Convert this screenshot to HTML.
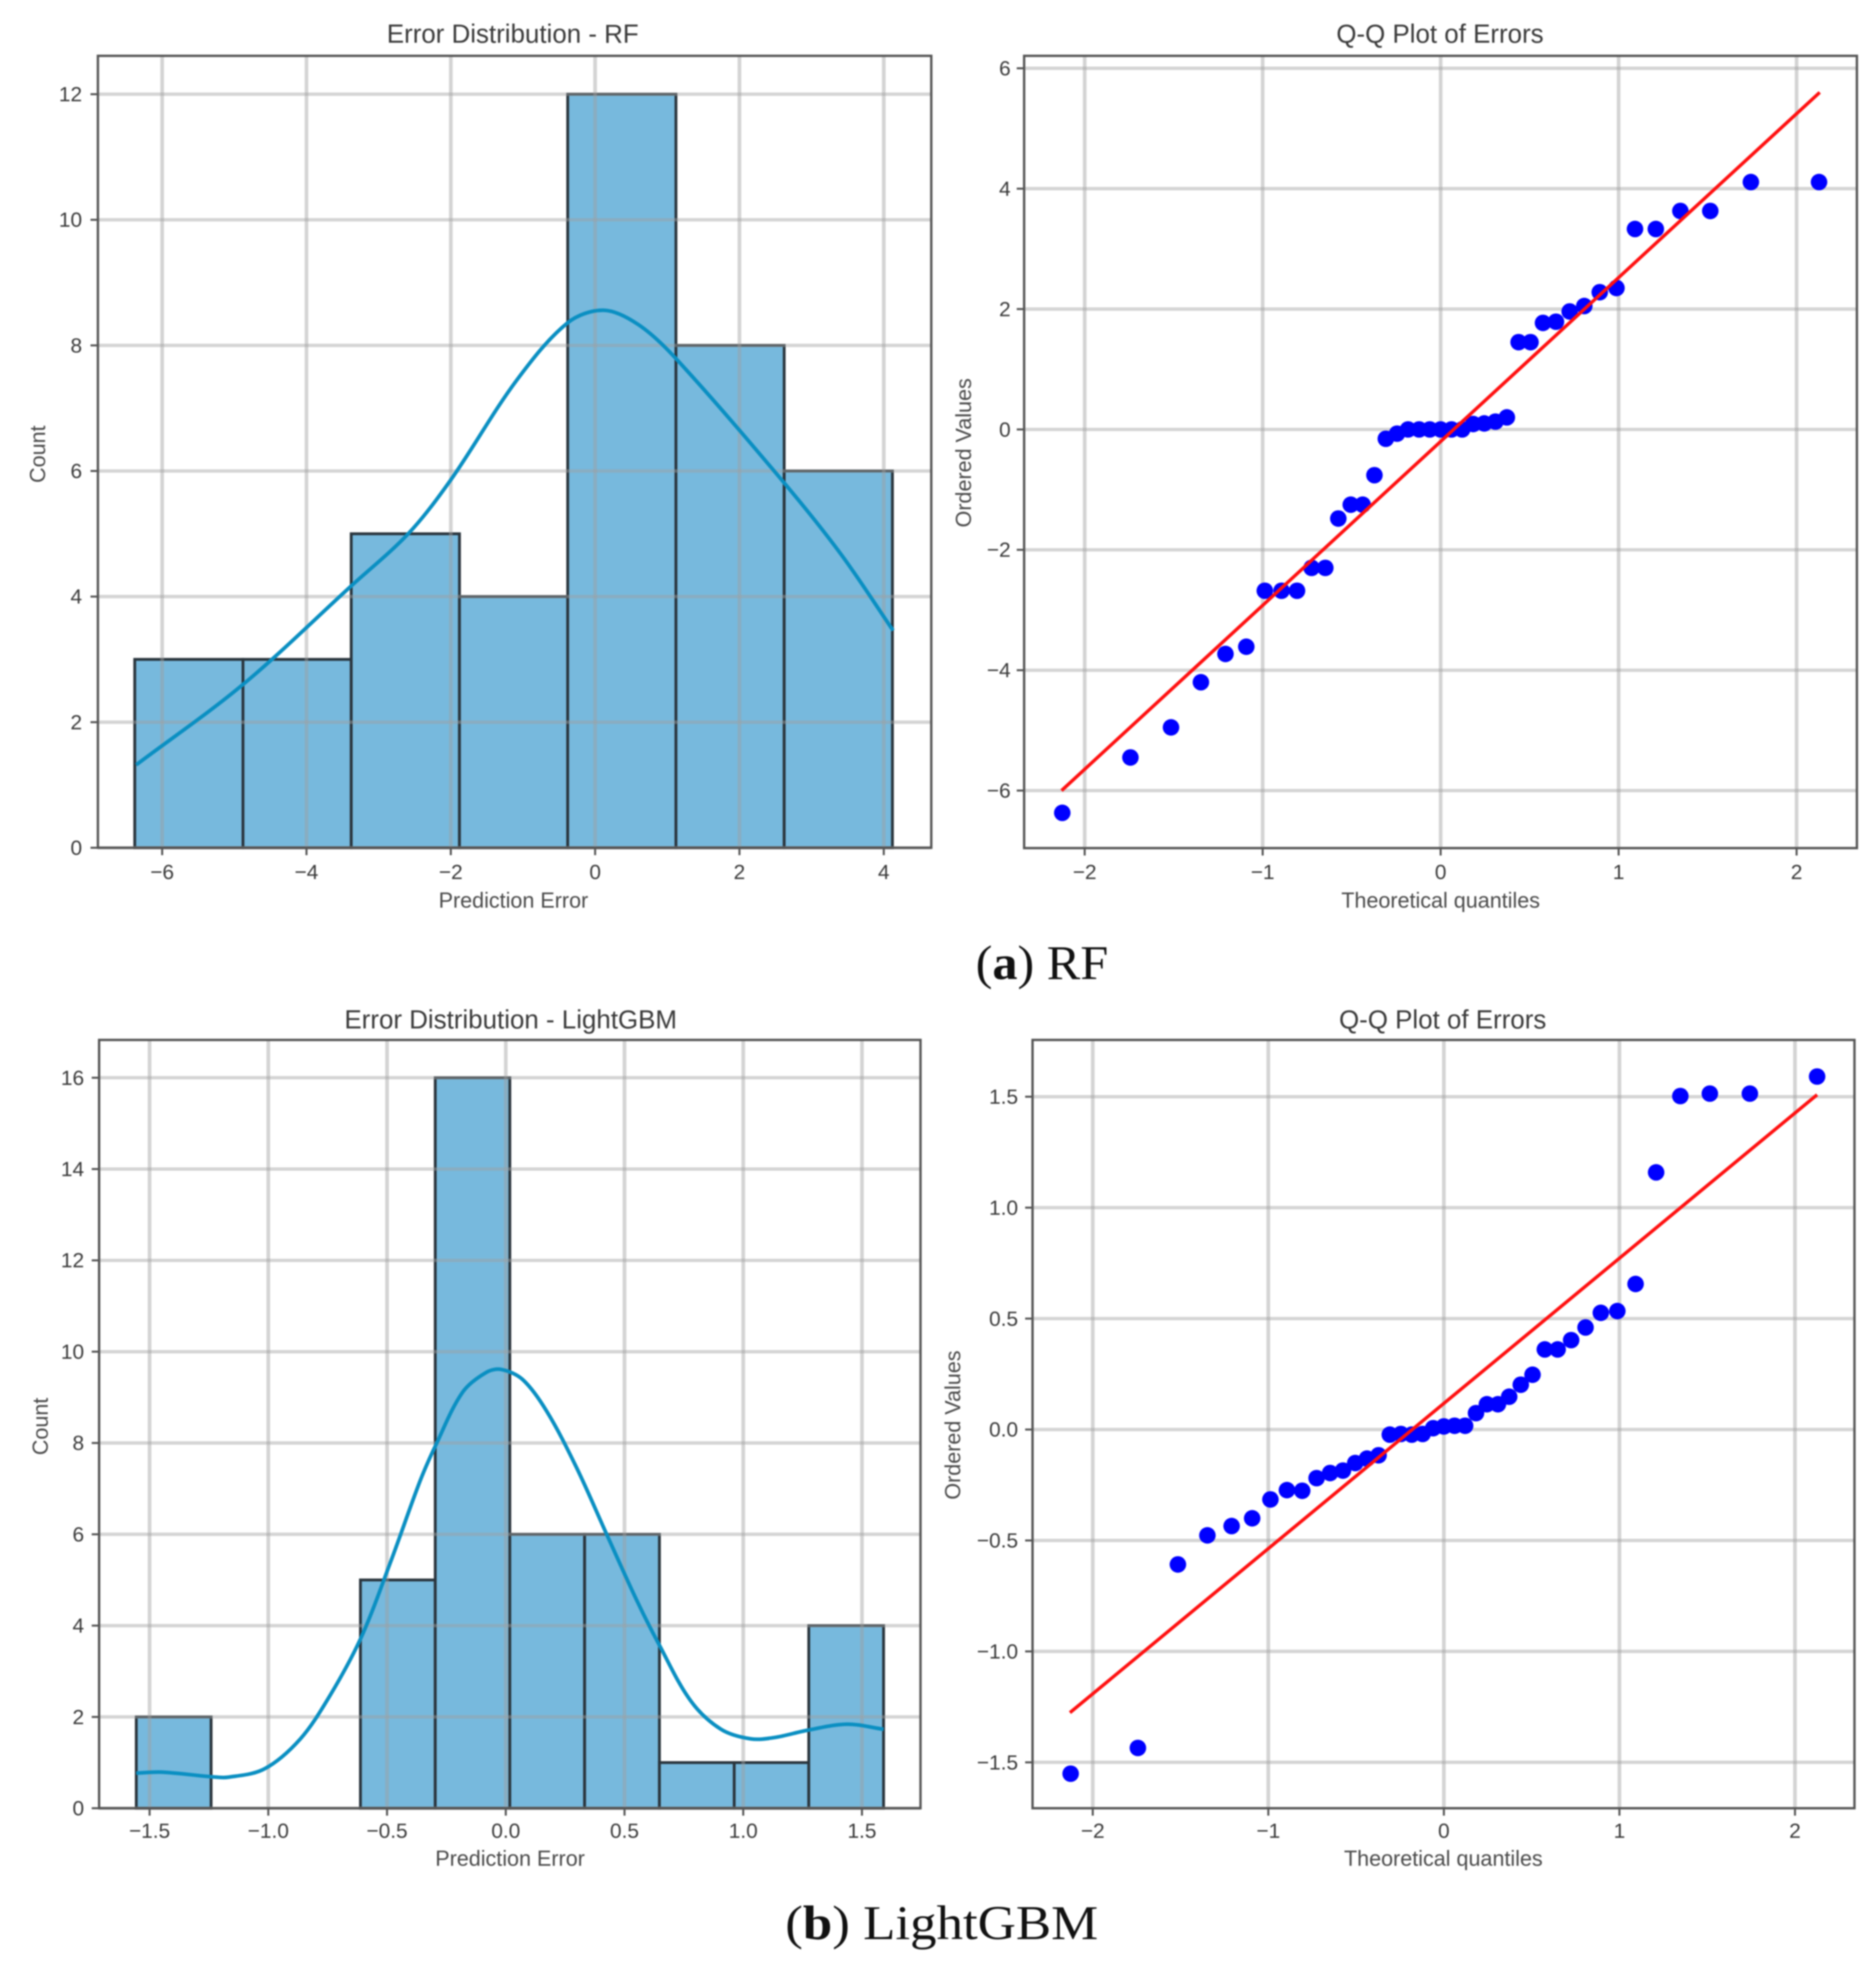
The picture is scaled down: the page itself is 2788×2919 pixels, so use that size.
<!DOCTYPE html>
<html lang="en">
<head>
<meta charset="utf-8">
<title>Error distributions and Q-Q plots for RF and LightGBM</title>
<style>
  html, body { margin: 0; padding: 0; background: #fff; }
  #figure { display: block; width: 2788px; height: 2919px; filter: blur(1.1px); }
  text { font-family: "Liberation Sans", sans-serif; fill: #3a3a3a; }
  .title { font-size: 38.5px; text-anchor: middle; dominant-baseline: central; }
  .axis-label { font-size: 32px; text-anchor: middle; dominant-baseline: central; fill: #4a4a4a; }
  .caption { font-family: "Liberation Serif", serif; font-size: 72px; fill: #111; }
</style>
</head>
<body>
<svg id="figure" xmlns="http://www.w3.org/2000/svg" width="2788" height="2919" viewBox="0 0 2788 2919">
  <rect x="0" y="0" width="2788" height="2919" fill="#fff"/>
  <g id="panel-rf-hist"></g>
  <g id="panel-rf-qq"></g>
  <g id="panel-lgbm-hist"></g>
  <g id="panel-lgbm-qq"></g>

  <text class="title" x="762" y="51">Error Distribution - RF</text>
  <text class="axis-label" x="763" y="1338">Prediction Error</text>
  <text class="axis-label" transform="translate(56 675) rotate(-90)">Count</text>

  <text class="title" x="2140" y="51">Q-Q Plot of Errors</text>
  <text class="axis-label" x="2141" y="1338">Theoretical quantiles</text>
  <text class="axis-label" transform="translate(1432 673) rotate(-90)">Ordered Values</text>

  <text class="caption" x="1450" y="1455" textLength="197" lengthAdjust="spacingAndGlyphs">(<tspan font-weight="bold">a</tspan>) RF</text>

  <text class="title" x="759" y="1516">Error Distribution - LightGBM</text>
  <text class="axis-label" x="758" y="2762">Prediction Error</text>
  <text class="axis-label" transform="translate(60 2120) rotate(-90)">Count</text>

  <text class="title" x="2144" y="1516">Q-Q Plot of Errors</text>
  <text class="axis-label" x="2145" y="2762">Theoretical quantiles</text>
  <text class="axis-label" transform="translate(1416 2118) rotate(-90)">Ordered Values</text>

  <text class="caption" x="1167" y="2882" textLength="465" lengthAdjust="spacingAndGlyphs">(<tspan font-weight="bold">b</tspan>) LightGBM</text>
</svg>

<script>
// ---- RF histogram data ----
const rfBinEdges = [-6.38, -4.88, -3.38, -1.88, -0.38, 1.12, 2.62, 4.12];
const rfCounts = [3, 3, 5, 4, 12, 8, 6];
const rfKdeX = [-6.36, -4.88, -3.38, -2.59, -2.0, -1.09, -0.38, 0.12, 0.6, 1.12, 2.62, 3.41, 4.13];
const rfKdeY = [1.32, 2.6, 4.17, 5.0, 5.86, 7.44, 8.36, 8.56, 8.33, 7.79, 5.81, 4.67, 3.46];
const rfHistXTicks = [-6, -4, -2, 0, 2, 4];
const rfHistYTicks = [0, 2, 4, 6, 8, 10, 12];

// ---- Shared theoretical quantiles (41 samples) ----
const theoreticalQuantiles = [-2.126, -1.743, -1.515, -1.347, -1.209, -1.092, -0.988, -0.894, -0.807, -0.725, -0.648, -0.575, -0.505, -0.438, -0.372, -0.308, -0.245, -0.183, -0.121, -0.061, 0, 0.061, 0.121, 0.183, 0.245, 0.308, 0.372, 0.438, 0.505, 0.575, 0.648, 0.725, 0.807, 0.894, 0.988, 1.092, 1.209, 1.347, 1.515, 1.743, 2.126];

// ---- RF Q-Q data ----
const rfOrdered = [-6.37, -5.45, -4.95, -4.2, -3.73, -3.61, -2.68, -2.68, -2.68, -2.3, -2.3, -1.48, -1.25, -1.25, -0.76, -0.155, -0.07, 0, 0, 0, 0, 0, 0, 0.09, 0.1, 0.13, 0.2, 1.45, 1.45, 1.77, 1.79, 1.96, 2.05, 2.28, 2.35, 3.33, 3.33, 3.63, 3.63, 4.11, 4.11];
const rfFitX = [-2.13, 2.13];
const rfFitY = [-6.0, 5.6];
const rfQqXTicks = [-2, -1, 0, 1, 2];
const rfQqYTicks = [-6, -4, -2, 0, 2, 4, 6];

// ---- LightGBM histogram data ----
const lgbmBinEdges = [-1.556, -1.241, -0.927, -0.612, -0.297, 0.017, 0.332, 0.647, 0.962, 1.276, 1.591];
const lgbmCounts = [2, 0, 0, 5, 16, 6, 6, 1, 1, 4];
const lgbmKdeX = [-1.556, -1.447, -1.24, -1.169, -1.017, -0.865, -0.739, -0.61, -0.486, -0.36, -0.296, -0.182, -0.081, -0.018, 0.071, 0.172, 0.299, 0.425, 0.551, 0.645, 0.779, 0.906, 1.032, 1.133, 1.272, 1.437, 1.591];
const lgbmKdeY = [0.77, 0.79, 0.69, 0.68, 0.86, 1.52, 2.48, 3.73, 5.38, 7.18, 7.94, 9.11, 9.55, 9.61, 9.39, 8.7, 7.45, 6.0, 4.56, 3.59, 2.35, 1.73, 1.52, 1.55, 1.71, 1.84, 1.73];
const lgbmHistXTicks = [-1.5, -1.0, -0.5, 0.0, 0.5, 1.0, 1.5];
const lgbmHistYTicks = [0, 2, 4, 6, 8, 10, 12, 14, 16];

// ---- LightGBM Q-Q data ----
const lgbmOrdered = [-1.551, -1.435, -0.608, -0.477, -0.435, -0.4, -0.315, -0.273, -0.276, -0.219, -0.196, -0.185, -0.151, -0.131, -0.116, -0.023, -0.02, -0.023, -0.02, 0.006, 0.014, 0.017, 0.017, 0.074, 0.114, 0.114, 0.148, 0.202, 0.247, 0.361, 0.361, 0.403, 0.46, 0.526, 0.534, 0.656, 1.159, 1.503, 1.514, 1.514, 1.591];
const lgbmFitX = [-2.13, 2.126];
const lgbmFitY = [-1.276, 1.509];
const lgbmQqXTicks = [-2, -1, 0, 1, 2];
const lgbmQqYTicks = [-1.5, -1.0, -0.5, 0.0, 0.5, 1.0, 1.5];

const SVG_NS = 'http://www.w3.org/2000/svg';

function makeAxes(box, xCal, yCal) {
  const kx = (xCal[3] - xCal[1]) / (xCal[2] - xCal[0]);
  const ky = (yCal[3] - yCal[1]) / (yCal[2] - yCal[0]);
  return {
    box: box,
    x: function (v) { return xCal[1] + (v - xCal[0]) * kx; },
    y: function (v) { return yCal[1] + (v - yCal[0]) * ky; }
  };
}

function svgEl(parent, tag, attrs) {
  const el = document.createElementNS(SVG_NS, tag);
  for (const k in attrs) el.setAttribute(k, attrs[k]);
  parent.appendChild(el);
  return el;
}

function fmtTick(v, decimals) {
  const s = Math.abs(v).toFixed(decimals);
  return (v < 0 ? '\u2212' : '') + s;
}

function drawGridLines(g, ax, xTicks, yTicks) {
  xTicks.forEach(function (t) {
    const line = svgEl(g, 'line', { x1: ax.x(t), x2: ax.x(t), y1: ax.box.top, y2: ax.box.bottom, stroke: 'rgba(160,160,160,0.45)', 'stroke-width': 5.5 });
    
    
  });
  yTicks.forEach(function (t) {
    const line = svgEl(g, 'line', { x1: ax.box.left, x2: ax.box.right, y1: ax.y(t), y2: ax.y(t), stroke: 'rgba(160,160,160,0.45)', 'stroke-width': 5 });
    
    
  });
}

function drawFrameAndTicks(g, ax, xTicks, yTicks, decimalsX, decimalsY, xLabelY, yLabelRight) {
  const frame = svgEl(g, 'rect', { x: ax.box.left, y: ax.box.top, width: ax.box.right - ax.box.left, height: ax.box.bottom - ax.box.top, fill: 'none', stroke: '#555', 'stroke-width': 3.5 });
  
  
  xTicks.forEach(function (t) {
    const mark = svgEl(g, 'line', { x1: ax.x(t), x2: ax.x(t), y1: ax.box.bottom, y2: ax.box.bottom + 11, stroke: '#555', 'stroke-width': 3 });
    
    
    const label = svgEl(g, 'text', { x: ax.x(t), y: xLabelY, 'text-anchor': 'middle', 'dominant-baseline': 'central', 'font-size': 31 });
    
    
    label.textContent = fmtTick(t, decimalsX);
  });
  yTicks.forEach(function (t) {
    const mark = svgEl(g, 'line', { x1: ax.box.left - 11, x2: ax.box.left, y1: ax.y(t), y2: ax.y(t), stroke: '#555', 'stroke-width': 3 });
    
    
    const label = svgEl(g, 'text', { x: yLabelRight, y: ax.y(t), 'text-anchor': 'end', 'dominant-baseline': 'central', 'font-size': 31 });
    
    
    label.textContent = fmtTick(t, decimalsY);
  });
}

function smoothPath(ax, xs, ys) {
  const p = xs.map(function (v, i) { return [ax.x(v), ax.y(ys[i])]; });
  const dist = function (a, b) { return Math.hypot(b[0] - a[0], b[1] - a[1]) || 1; };
  let d = 'M' + p[0][0].toFixed(1) + ' ' + p[0][1].toFixed(1);
  for (let i = 0; i < p.length - 1; i++) {
    const p0 = p[Math.max(0, i - 1)], p1 = p[i], p2 = p[i + 1], p3 = p[Math.min(p.length - 1, i + 2)];
    const d1 = dist(p0, p1), d2 = dist(p1, p2), d3 = dist(p2, p3);
    const c1x = p1[0] + (p2[0] - p0[0]) / (d1 + d2) * d2 / 3, c1y = p1[1] + (p2[1] - p0[1]) / (d1 + d2) * d2 / 3;
    const c2x = p2[0] - (p3[0] - p1[0]) / (d2 + d3) * d2 / 3, c2y = p2[1] - (p3[1] - p1[1]) / (d2 + d3) * d2 / 3;
    d += 'C' + c1x.toFixed(1) + ' ' + c1y.toFixed(1) + ' ' + c2x.toFixed(1) + ' ' + c2y.toFixed(1) + ' ' + p2[0].toFixed(1) + ' ' + p2[1].toFixed(1);
  }
  return d;
}

function drawHistogram(g, ax, edges, counts, kdeX, kdeY, xTicks, yTicks, decimalsX, xLabelY, yLabelRight) {
  counts.forEach(function (c, i) {
    if (c <= 0) return;
    const left = ax.x(edges[i]);
    const right = ax.x(edges[i + 1]);
    const bar = svgEl(g, 'rect', { x: left, y: ax.y(c), width: right - left, height: ax.y(0) - ax.y(c), fill: '#77b9dd', stroke: '#2a353d', 'stroke-width': 4.2 });
    
    
  });
  drawGridLines(g, ax, xTicks, yTicks);
  const kde = svgEl(g, 'path', { d: smoothPath(ax, kdeX, kdeY), fill: 'none', stroke: '#0a8fc2', 'stroke-width': 5.5, 'stroke-linejoin': 'round' });
  
  
  drawFrameAndTicks(g, ax, xTicks, yTicks, decimalsX, 0, xLabelY, yLabelRight);
}

function drawQQ(g, ax, qx, qy, fitX, fitY, xTicks, yTicks, decimalsY, xLabelY, yLabelRight) {
  drawGridLines(g, ax, xTicks, yTicks);
  qx.forEach(function (v, i) {
    const dot = svgEl(g, 'circle', { cx: ax.x(v), cy: ax.y(qy[i]), r: 12.3, fill: '#0000ff' });
    
    
  });
  const fit = svgEl(g, 'line', { x1: ax.x(fitX[0]), y1: ax.y(fitY[0]), x2: ax.x(fitX[1]), y2: ax.y(fitY[1]), stroke: '#ff1010', 'stroke-width': 5 });
  
  
  drawFrameAndTicks(g, ax, xTicks, yTicks, 0, decimalsY, xLabelY, yLabelRight);
}

drawHistogram(
  document.getElementById('panel-rf-hist'),
  makeAxes({ left: 145.5, right: 1384, top: 83, bottom: 1260 }, [-6, 241, 4, 1313.4], [0, 1260, 12, 140]),
  rfBinEdges, rfCounts, rfKdeX, rfKdeY, rfHistXTicks, rfHistYTicks, 0, 1296, 122
);
drawQQ(
  document.getElementById('panel-rf-qq'),
  makeAxes({ left: 1522, right: 2759.6, top: 83, bottom: 1260.5 }, [-2, 1612, 2, 2670], [-6, 1175, 6, 101.5]),
  theoreticalQuantiles, rfOrdered, rfFitX, rfFitY, rfQqXTicks, rfQqYTicks, 0, 1296, 1502
);
drawHistogram(
  document.getElementById('panel-lgbm-hist'),
  makeAxes({ left: 147.3, right: 1368, top: 1545.6, bottom: 2687.5 }, [-1.5, 222.3, 1.5, 1281], [0, 2687.5, 16, 1601.8]),
  lgbmBinEdges, lgbmCounts, lgbmKdeX, lgbmKdeY, lgbmHistXTicks, lgbmHistYTicks, 1, 2721, 125
);
drawQQ(
  document.getElementById('panel-lgbm-qq'),
  makeAxes({ left: 1534.5, right: 2756, top: 1545.6, bottom: 2687.5 }, [-2, 1624, 2, 2667.6], [-1.5, 2619.3, 1.5, 1630]),
  theoreticalQuantiles, lgbmOrdered, lgbmFitX, lgbmFitY, lgbmQqXTicks, lgbmQqYTicks, 1, 2721, 1513
);
</script>
</body>
</html>
